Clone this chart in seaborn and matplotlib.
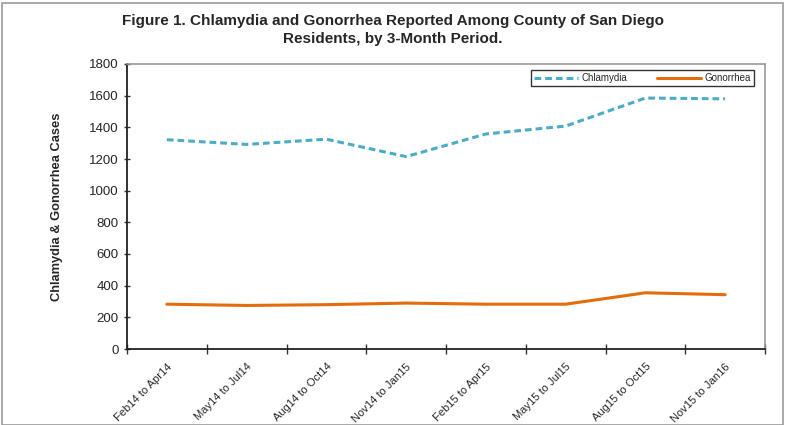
import matplotlib
matplotlib.use("Agg")
import matplotlib.pyplot as plt
import seaborn as sns
import pandas as pd
from matplotlib.patches import Rectangle

periods = ["Feb14 to Apr14", "May14 to Jul14", "Aug14 to Oct14", "Nov14 to Jan15",
           "Feb15 to Apr15", "May15 to Jul15", "Aug15 to Oct15", "Nov15 to Jan16"]
chlamydia = [1322, 1292, 1325, 1215, 1358, 1408, 1585, 1580]
gonorrhea = [283, 275, 280, 290, 283, 283, 355, 343]

sns.set_theme(style="white")
plt.rcParams['font.family'] = ['Liberation Sans', 'DejaVu Sans']

fig = plt.figure(figsize=(7.86, 4.25), dpi=100)
ax = fig.add_axes([127/786, 1-349/425, (765-127)/786, (349-64)/425])

df = pd.DataFrame({"x": list(range(len(periods))) * 2,
                   "Cases": chlamydia + gonorrhea,
                   "Series": ["Chlamydia"] * len(periods) + ["Gonorrhea"] * len(periods)})
sns.lineplot(data=df, x="x", y="Cases", hue="Series", style="Series",
             palette={"Chlamydia": "#4bacc6", "Gonorrhea": "#e46c0a"},
             dashes={"Chlamydia": (2.2, 1.3), "Gonorrhea": ""}, linewidth=2.2, ax=ax)

ax.set_xlim(-0.5, len(periods) - 0.5)
ax.set_ylim(0, 1800)
ax.set_yticks(range(0, 1801, 200))
ax.set_yticklabels([str(v) for v in range(0, 1801, 200)], fontsize=9.5)
ax.set_xticks(range(len(periods)))
ax.set_xticklabels(periods, rotation=45, ha="right", rotation_mode="anchor", fontsize=8)
ax.tick_params(axis="x", length=0, pad=9)
ax.set_xticks([i - 0.5 for i in range(len(periods) + 1)], minor=True)
ax.tick_params(axis="x", which="minor", length=7, direction="inout", width=1, color="#333333", bottom=True)
ax.tick_params(axis="y", length=5, direction="inout", width=1, color="#333333", left=True)
ax.set_xlabel("")
ax.set_ylabel("Chlamydia & Gonorrhea Cases", fontsize=9.3, fontweight="bold", labelpad=19)

for s in ["left", "bottom"]:
    ax.spines[s].set_color("#222222")
    ax.spines[s].set_linewidth(1.3)
for s in ["top", "right"]:
    ax.spines[s].set_color("#999999")
    ax.spines[s].set_linewidth(1.2)

leg = ax.legend(loc="upper right", bbox_to_anchor=(0.99, 0.995), ncol=2, fontsize=7,
                frameon=True, fancybox=False, edgecolor="black", handlelength=4.5,
                columnspacing=3, borderpad=0.3, handletextpad=0.4)
leg.get_frame().set_linewidth(1.0)
leg.set_title(None)

fig.text(0.5, 1 - 30/425, "Figure 1. Chlamydia and Gonorrhea Reported Among County of San Diego\nResidents, by 3-Month Period.",
         ha="center", va="center", fontsize=11, fontweight="bold", linespacing=1.45)

fig.patches.append(Rectangle((2/786, 0), 781/786, 1 - 3/425, transform=fig.transFigure,
                             fill=False, edgecolor="#999999", linewidth=1.2))

fig.savefig("out.png", dpi=100)
